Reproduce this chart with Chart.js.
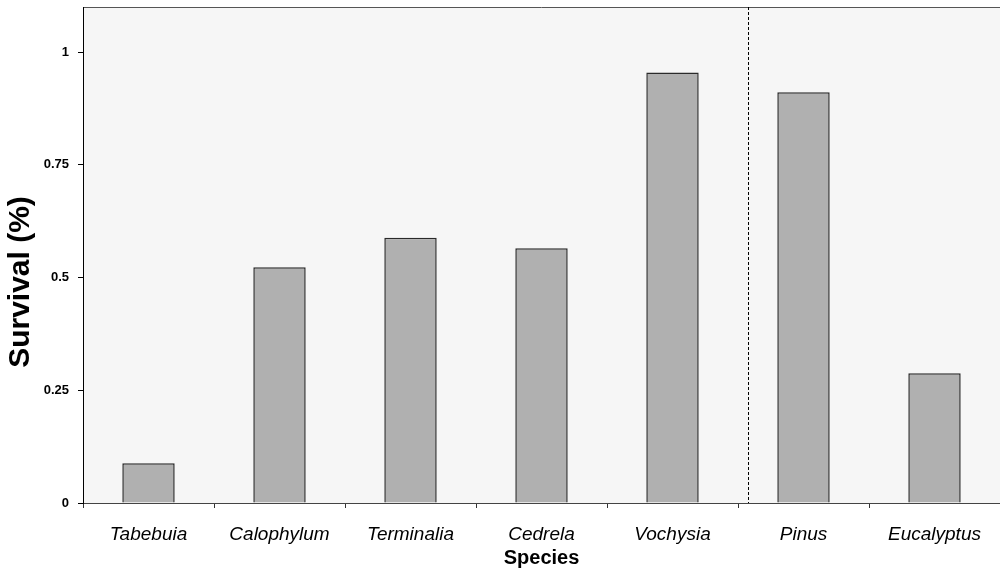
<!DOCTYPE html>
<html>
<head>
<meta charset="utf-8">
<script src="https://cdn.jsdelivr.net/npm/chart.js@4.4.0/dist/chart.umd.min.js"></script>
<style>
  html, body { margin: 0; padding: 0; background: #fff; }
  #chart { display: block; }
</style>
</head>
<body>
<canvas id="chart" width="1000" height="571" style="width:1000px;height:571px"></canvas>
<script>
// data
const species  = ['Tabebuia', 'Calophylum', 'Terminalia', 'Cedrela', 'Vochysia', 'Pinus', 'Eucalyptus'];
const survival = [0.088, 0.523, 0.588, 0.565, 0.955, 0.911, 0.288];
const yTicks   = [0, 0.25, 0.5, 0.75, 1];
const yMax     = 1.1;
const separatorAt = 4.58; // native vs exotic split, in category units
const yTitle   = 'Survival (%)';

const FONT = "'Liberation Sans', Arial, Helvetica, sans-serif";

const plotDecor = {
  id: 'plotDecor',
  beforeDraw(chart) {
    const { ctx, chartArea: a } = chart;
    ctx.save();
    ctx.fillStyle = '#f6f6f6';
    ctx.fillRect(a.left, a.top, a.right - a.left, a.bottom - a.top);
    ctx.strokeStyle = '#555';
    ctx.lineWidth = 1;
    ctx.beginPath();
    ctx.moveTo(a.left, a.top + 0.5);
    ctx.lineTo(a.right, a.top + 0.5);
    ctx.stroke();
    ctx.restore();
  },
  afterDatasetsDraw(chart) {
    const { ctx, chartArea: a, scales } = chart;
    const x = Math.round(scales.x.getPixelForValue(separatorAt)) + 0.5;
    ctx.save();
    ctx.strokeStyle = '#000';
    ctx.lineWidth = 1;
    ctx.setLineDash([3, 2]);
    ctx.beginPath();
    ctx.moveTo(x, a.top);
    ctx.lineTo(x, a.bottom);
    ctx.stroke();
    ctx.restore();
  },
  afterDraw(chart) {
    // y title sits a little below the axis middle in the original
    const { ctx } = chart;
    ctx.save();
    ctx.translate(21, 282);
    ctx.rotate(-Math.PI / 2);
    ctx.font = `bold 30px ${FONT}`;
    ctx.fillStyle = '#000';
    ctx.textAlign = 'center';
    ctx.textBaseline = 'middle';
    ctx.fillText(yTitle, 0, 0);
    ctx.restore();
  }
};

new Chart(document.getElementById('chart'), {
  type: 'bar',
  data: {
    labels: species,
    datasets: [{
      data: survival,
      backgroundColor: '#b0b0b0',
      borderColor: '#2a2a2a',
      borderWidth: 1.5,
      categoryPercentage: 1,
      barPercentage: 0.4
    }]
  },
  options: {
    responsive: false,
    animation: false,
    layout: { padding: { top: 7, right: 0, left: 0, bottom: 0 } },
    plugins: {
      legend: { display: false },
      tooltip: { enabled: false }
    },
    scales: {
      x: {
        offset: true,
        afterFit: s => { s.height = 68; s.paddingLeft = 0; s.paddingRight = 0; },
        grid: { offset: true, drawOnChartArea: false, tickLength: 5, color: '#333' },
        border: { color: '#444', width: 1 },
        ticks: {
          color: '#000', padding: 15, maxRotation: 0,
          font: { family: FONT, size: 19, style: 'italic' }
        },
        title: {
          display: true, text: 'Species', color: '#000',
          padding: { top: 0, bottom: 1 },
          font: { family: FONT, size: 20, weight: 'bold' }
        }
      },
      y: {
        min: 0, max: yMax,
        afterFit: s => { s.width = 83; s.paddingTop = 0; s.paddingBottom = 0; },
        afterBuildTicks: s => { s.ticks = yTicks.map(v => ({ value: v })); },
        grid: { drawOnChartArea: false, tickLength: 5, color: '#000' },
        border: { color: '#000', width: 1 },
        ticks: {
          color: '#000', padding: 9,
          font: { family: FONT, size: 13, weight: 'bold' },
          callback: v => String(v)
        },
        title: { display: false }
      }
    }
  },
  plugins: [plotDecor]
});
</script>
</body>
</html>
